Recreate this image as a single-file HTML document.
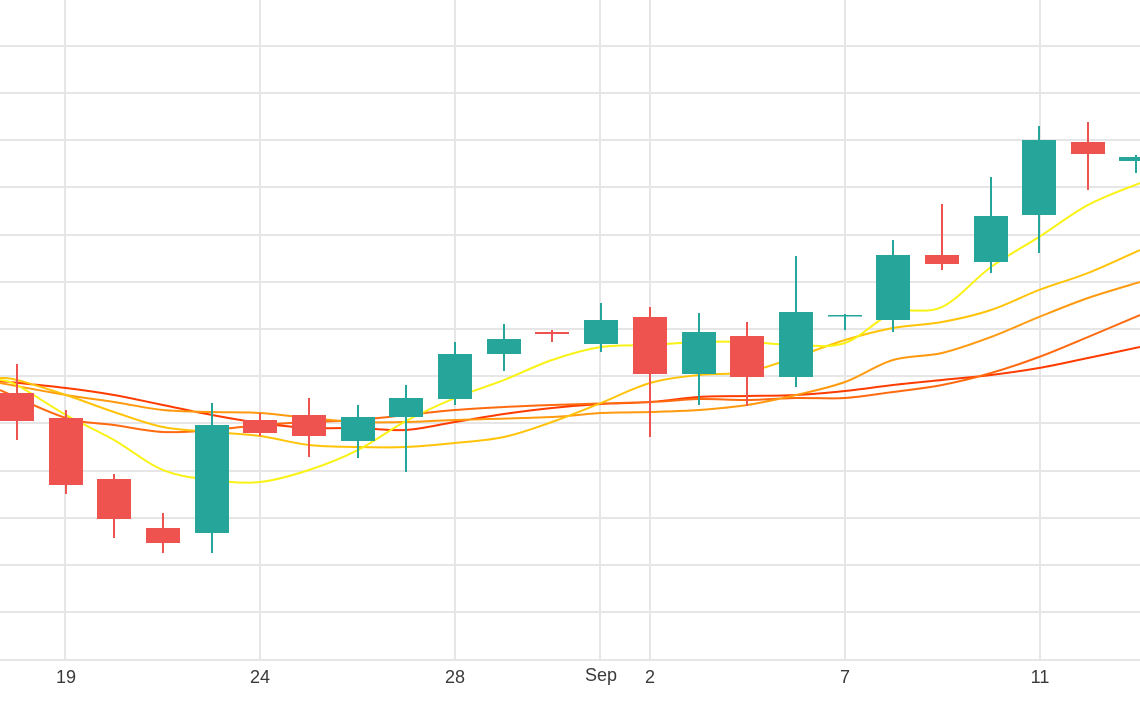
<!DOCTYPE html>
<html><head><meta charset="utf-8"><style>
html,body{margin:0;padding:0;background:#fff;width:1140px;height:710px;overflow:hidden}
svg{display:block}
text{font-family:"Liberation Sans",sans-serif;font-size:18px;fill:#3a3a3a}
</style></head><body>
<svg width="1140" height="710" viewBox="0 0 1140 710">
<g stroke="#e6e6e6" stroke-width="2">
<line x1="0" y1="46" x2="1140" y2="46"/><line x1="0" y1="93" x2="1140" y2="93"/>
<line x1="0" y1="140" x2="1140" y2="140"/><line x1="0" y1="187" x2="1140" y2="187"/>
<line x1="0" y1="235" x2="1140" y2="235"/><line x1="0" y1="282" x2="1140" y2="282"/>
<line x1="0" y1="329" x2="1140" y2="329"/><line x1="0" y1="376" x2="1140" y2="376"/>
<line x1="0" y1="423" x2="1140" y2="423"/><line x1="0" y1="471" x2="1140" y2="471"/>
<line x1="0" y1="518" x2="1140" y2="518"/><line x1="0" y1="565" x2="1140" y2="565"/>
<line x1="0" y1="612" x2="1140" y2="612"/><line x1="0" y1="660" x2="1140" y2="660"/>
<line x1="65" y1="0" x2="65" y2="660"/><line x1="260" y1="0" x2="260" y2="660"/>
<line x1="455" y1="0" x2="455" y2="660"/><line x1="600" y1="0" x2="600" y2="660"/>
<line x1="650" y1="0" x2="650" y2="660"/><line x1="845" y1="0" x2="845" y2="660"/>
<line x1="1040" y1="0" x2="1040" y2="660"/>
</g>
<g id="l" fill="none" stroke-width="2" stroke-linejoin="round"></g>
<g id="c"></g>
<text x="66" y="683" text-anchor="middle">19</text>
<text x="260" y="683" text-anchor="middle">24</text>
<text x="455" y="683" text-anchor="middle">28</text>
<text x="601" y="681" text-anchor="middle">Sep</text>
<text x="650" y="683" text-anchor="middle">2</text>
<text x="845" y="683" text-anchor="middle">7</text>
<text x="1040" y="683" text-anchor="middle">11</text>
</svg>
<script>
var L=[["#ff3c00","0,381 66,388 114,395 163,405 212,415 260,423 309,428 358,428 406,430 455,422 504,414 552,408 601,404 650,402 699,397 747,396 796,395 845,391 893,385 942,380 991,375 1039,368 1088,358 1140,347"],
["#ff6a10","0,390 66,418 114,425 163,432 212,430 260,425 309,422 358,420 406,415 455,410 504,407 552,405 650,402 699,399 747,400 796,398 845,398 893,392 942,385 991,373 1039,357 1088,337 1140,315"],
["#ff9a10","0,383 66,395 114,402 163,410 212,412 260,413 309,418 358,422 406,422 455,420 552,417 601,413 650,412 699,410 747,405 796,395 845,382 893,360 942,353 991,337 1039,317 1088,298 1140,282"],
["#ffc30a","0,378 17,380 66,395 114,412 163,427 212,432 260,436 309,445 358,447 406,447 455,443 504,437 552,422 601,403 650,383 699,375 747,372 796,357 845,340 893,328 942,322 991,310 1039,290 1088,273 1140,250"],
["#f9f214","0,380 17,385 66,415 114,440 163,470 212,480 260,482 309,470 358,450 406,421 455,398 504,380 552,360 601,347 650,345 699,342 747,342 796,345 845,343 893,313 942,307 991,267 1039,237 1088,205 1140,183"]];
var h='';
L.forEach(function(a){var p=a[1].split(' ').map(function(q){return q.split(',').map(Number)});
var s='M'+p[0][0]+','+p[0][1];
for(var i=0;i<p.length-1;i++){var p0=p[i-1]||p[i],p1=p[i],p2=p[i+1],p3=p[i+2]||p2;
s+=' C'+(p1[0]+(p2[0]-p0[0])/6)+','+(p1[1]+(p2[1]-p0[1])/6)+' '+(p2[0]-(p3[0]-p1[0])/6)+','+(p2[1]-(p3[1]-p1[1])/6)+' '+p2[0]+','+p2[1];}
h+='<path stroke="'+a[0]+'" d="'+s+'"/>';});
document.getElementById('l').innerHTML=h;
var d=[[17,393,421,364,440,0],[66,418,485,410,494,0],[114,479,519,474,538,0],[163,528,543,513,553,0],[212,425,533,403,553,1],[260,420,433,413,436,0],[309,415,436,398,457,0],[358,417,441,405,458,1],[406,398,417,385,472,1],[455,354,399,342,405,1],[504,339,354,324,371,1],[552,332,334,330,342,0],[601,320,344,303,352,1],[650,317,374,307,437,0],[699,332,374,313,405,1],[747,336,377,322,406,0],[796,312,377,256,387,1],[845,315,316.5,314,330,1],[893,255,320,240,332,1],[942,255,264,204,270,0],[991,216,262,177,273,1],[1039,140,215,126,253,1],[1088,142,154,122,190,0],[1136,157,161,155,173,1]];
var g=document.getElementById('c'),s='';
d.forEach(function(c){var col=c[5]?'#26a69a':'#ef5350';
s+='<line x1="'+c[0]+'" x2="'+c[0]+'" y1="'+c[3]+'" y2="'+c[4]+'" stroke="'+col+'" stroke-width="2"/>';
s+='<rect x="'+(c[0]-17)+'" y="'+c[1]+'" width="34" height="'+Math.max(c[2]-c[1],1.5)+'" fill="'+col+'"/>';});
g.innerHTML=s;
</script>
</body></html>
